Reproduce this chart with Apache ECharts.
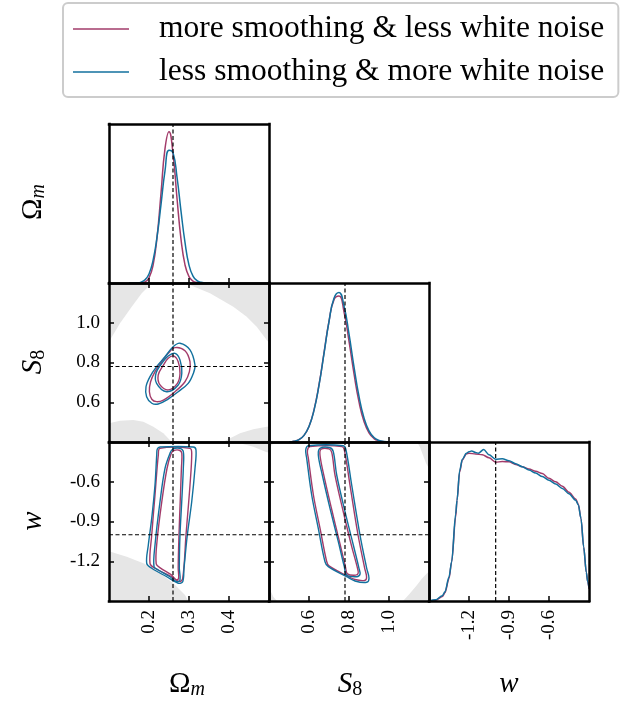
<!DOCTYPE html>
<html>
<head>
<meta charset="utf-8">
<script src="https://cdn.jsdelivr.net/npm/echarts@6/dist/echarts.min.js"></script>
<style>
  html, body { margin: 0; padding: 0; background: #fff; }
  #chart { width: 631px; height: 702px; }
</style>
</head>
<body>
<div id="chart"></div>
<script>
// ---- parameter ranges, ticks and fiducial values ----
const omRange = [0.1, 0.5];
const s8Range = [0.4, 1.2];
const wRange = [-1.5, -0.3];
const omTicks = [0.2, 0.3, 0.4];
const s8Ticks = [0.6, 0.8, 1.0];
const wTicks = [-1.2, -0.9, -0.6];
const omTrue = 0.26;
const s8True = 0.78;
const wTrue = -1.0;

const seriesNames = ['more smoothing & less white noise', 'less smoothing & more white noise'];
const colors = ['#a23b6a', '#12719e'];

// ---- 1D marginal posteriors ----
const omGridVals = [0.15, 0.16, 0.17, 0.18, 0.19, 0.20, 0.21, 0.22, 0.23, 0.24, 0.25, 0.26, 0.27, 0.28, 0.29, 0.30, 0.31, 0.32, 0.33, 0.34, 0.35, 0.36];
const omPdfA = [0, 0, 0.0003, 0.001, 0.007, 0.034, 0.115, 0.3, 0.592, 0.887, 0.999, 0.855, 0.56, 0.29, 0.12, 0.042, 0.012, 0.003, 0.0004, 0, 0, 0];
const omPdfB = [0, 0.0003, 0.0015, 0.006, 0.021, 0.06, 0.148, 0.303, 0.518, 0.74, 0.877, 0.86, 0.7, 0.475, 0.268, 0.118, 0.046, 0.016, 0.005, 0.0012, 0, 0];

const s8GridVals = [0.5, 0.525, 0.55, 0.575, 0.6, 0.625, 0.65, 0.675, 0.7, 0.725, 0.75, 0.775, 0.8, 0.825, 0.85, 0.875, 0.9, 0.925, 0.95, 0.975, 1.0];
const s8PdfA = [0.0014, 0.005, 0.016, 0.044, 0.104, 0.214, 0.382, 0.594, 0.805, 0.949, 0.973, 0.868, 0.673, 0.455, 0.267, 0.137, 0.061, 0.023, 0.008, 0.0025, 0.0006];
const s8PdfB = [0.0015, 0.0054, 0.0164, 0.044, 0.103, 0.211, 0.377, 0.589, 0.803, 0.958, 0.997, 0.907, 0.721, 0.501, 0.304, 0.161, 0.074, 0.03, 0.0107, 0.0033, 0.0009];

const wGridA = [-1.5, -1.45, -1.4, -1.38, -1.35, -1.33, -1.3, -1.29, -1.27, -1.25, -1.22, -1.2, -1.15, -1.1, -1.05, -1.0, -0.95, -0.9, -0.85, -0.8, -0.75, -0.7, -0.65, -0.6, -0.55, -0.5, -0.45, -0.4, -0.38, -0.36, -0.34, -0.32, -0.31, -0.3];
const wPdfA = [0, 0.005, 0.03, 0.055, 0.15, 0.26, 0.56, 0.67, 0.86, 0.94, 0.98, 0.985, 0.98, 0.975, 0.955, 0.925, 0.93, 0.928, 0.91, 0.895, 0.88, 0.865, 0.85, 0.818, 0.795, 0.765, 0.725, 0.68, 0.645, 0.55, 0.36, 0.19, 0.13, 0.08];
const wGridB = [-1.5, -1.45, -1.4, -1.38, -1.35, -1.33, -1.3, -1.29, -1.27, -1.25, -1.22, -1.2, -1.18, -1.15, -1.13, -1.09, -1.05, -1.0, -0.95, -0.9, -0.85, -0.8, -0.75, -0.7, -0.65, -0.6, -0.55, -0.5, -0.45, -0.4, -0.38, -0.36, -0.34, -0.32, -0.31, -0.3];
const wPdfB = [0, 0.008, 0.035, 0.062, 0.16, 0.262, 0.58, 0.67, 0.87, 0.945, 0.985, 0.995, 1.0, 0.99, 0.985, 1.01, 0.975, 0.945, 0.948, 0.935, 0.915, 0.895, 0.873, 0.853, 0.83, 0.805, 0.78, 0.75, 0.715, 0.672, 0.64, 0.55, 0.36, 0.19, 0.13, 0.09];

// ---- 2D credible contours (68% and 95%) ----
const omS8A68 = [[0.261, 0.833], [0.273, 0.804], [0.2775, 0.746], [0.271, 0.695], [0.248, 0.662], [0.2275, 0.687], [0.223, 0.737], [0.236, 0.787], [0.248, 0.821]];
const omS8A95 = [[0.265, 0.875], [0.29, 0.859], [0.3025, 0.804], [0.301, 0.754], [0.29, 0.703], [0.265, 0.653], [0.236, 0.611], [0.219, 0.603], [0.207, 0.615], [0.201, 0.653], [0.204, 0.703], [0.215, 0.754], [0.232, 0.804], [0.248, 0.846]];
const omS8B68 = [[0.265, 0.846], [0.2775, 0.813], [0.282, 0.746], [0.273, 0.687], [0.244, 0.653], [0.219, 0.695], [0.2175, 0.746], [0.232, 0.796], [0.248, 0.833]];
const omS8B95 = [[0.2775, 0.897], [0.3025, 0.863], [0.315, 0.787], [0.311, 0.746], [0.298, 0.695], [0.273, 0.653], [0.244, 0.611], [0.223, 0.591], [0.207, 0.595], [0.194, 0.628], [0.1925, 0.678], [0.2025, 0.729], [0.219, 0.779], [0.24, 0.829], [0.261, 0.88]];

const omWA68 = [[0.262, -0.365], [0.276, -0.362], [0.282, -0.385], [0.281, -0.5], [0.278, -0.75], [0.275, -1.0], [0.273, -1.25], [0.274, -1.33], [0.268, -1.34], [0.255, -1.3], [0.228, -1.25], [0.218, -1.22], [0.22, -1.05], [0.232, -0.75], [0.245, -0.5], [0.255, -0.39]];
const omWA95 = [[0.2275, -0.348], [0.3025, -0.348], [0.3068, -0.385], [0.3025, -0.625], [0.2925, -1.002], [0.2843, -1.329], [0.2758, -1.354], [0.2568, -1.317], [0.215, -1.253], [0.2025, -1.216], [0.2068, -1.002], [0.215, -0.7], [0.2233, -0.398]];
const omWB68 = [[0.2593, -0.353], [0.2775, -0.348], [0.2858, -0.373], [0.2858, -0.4985], [0.2818, -0.751], [0.2775, -1.002], [0.2758, -1.253], [0.2775, -1.342], [0.2693, -1.354], [0.2525, -1.317], [0.2233, -1.266], [0.2125, -1.241], [0.215, -1.077], [0.2275, -0.751], [0.24, -0.4985], [0.2525, -0.385]];
const omWB95 = [[0.2275, -0.338], [0.3108, -0.338], [0.3175, -0.36], [0.315, -0.4985], [0.3068, -0.751], [0.2958, -1.002], [0.2875, -1.253], [0.2843, -1.354], [0.2733, -1.366], [0.2443, -1.317], [0.2068, -1.253], [0.1943, -1.216], [0.1983, -1.077], [0.2068, -0.876], [0.215, -0.625], [0.2193, -0.398], [0.2208, -0.353]];

const s8WA68 = [[0.66, -0.355], [0.70, -0.352], [0.714, -0.38], [0.73, -0.55], [0.772, -0.83], [0.812, -1.08], [0.842, -1.25], [0.846, -1.29], [0.834, -1.305], [0.792, -1.295], [0.782, -1.24], [0.752, -1.05], [0.712, -0.8], [0.674, -0.55], [0.655, -0.4]];
const s8WA95 = [[0.605, -0.335], [0.765, -0.335], [0.778, -0.37], [0.805, -0.625], [0.845, -1.0], [0.878, -1.25], [0.888, -1.32], [0.878, -1.345], [0.83, -1.338], [0.79, -1.31], [0.70, -1.235], [0.688, -1.2], [0.655, -0.95], [0.622, -0.7], [0.597, -0.425], [0.592, -0.365]];
const s8WB68 = [[0.655, -0.3475], [0.705, -0.343], [0.7215, -0.3732], [0.7385, -0.549], [0.78, -0.826], [0.8215, -1.0773], [0.85, -1.2532], [0.855, -1.2985], [0.8385, -1.3166], [0.7885, -1.3038], [0.7765, -1.2411], [0.7465, -1.0524], [0.705, -0.8004], [0.6665, -0.549], [0.6465, -0.3981]];
const s8WB95 = [[0.5965, -0.3279], [0.7715, -0.3279], [0.785, -0.3604], [0.8135, -0.6245], [0.855, -1.0019], [0.8885, -1.2532], [0.9, -1.3286], [0.8885, -1.3589], [0.83, -1.349], [0.7885, -1.3166], [0.6965, -1.2411], [0.68, -1.2034], [0.6465, -0.9513], [0.6135, -0.7], [0.5885, -0.423], [0.5835, -0.3604]];

// ---- prior-excluded regions (shaded) ----
const omS8Prior = [
  [[0.1, 1.2], [0.2075, 1.2], [0.2025, 1.19], [0.1818, 1.148], [0.1568, 1.081], [0.1275, 0.997], [0.1025, 0.913], [0.1, 0.9]],
  [[0.29, 1.2], [0.3025, 1.19], [0.3525, 1.148], [0.4108, 1.081], [0.4443, 1.03], [0.4693, 0.98], [0.4943, 0.913], [0.5, 0.9], [0.5, 1.2]],
  [[0.1, 0.4], [0.1, 0.494], [0.1275, 0.507], [0.1608, 0.511], [0.1858, 0.502], [0.2108, 0.477], [0.2358, 0.444], [0.2568, 0.4]],
  [[0.385, 0.4], [0.3943, 0.41], [0.4275, 0.444], [0.4608, 0.464], [0.4943, 0.477], [0.5, 0.478], [0.5, 0.4]]
];
const omWPrior = [
  [[0.3858, -0.3], [0.4275, -0.31], [0.4608, -0.335], [0.4943, -0.378], [0.5, -0.38], [0.5, -0.3]],
  [[0.1, -1.5], [0.1, -1.125], [0.1443, -1.166], [0.1858, -1.216], [0.2275, -1.291], [0.2608, -1.366], [0.29, -1.455], [0.2983, -1.5]]
];
const s8WPrior = [
  [[0.4, -0.3], [0.44, -0.3], [0.422, -0.31], [0.41, -0.33], [0.403, -0.36], [0.4, -0.38]],
  [[0.4, -1.5], [0.44, -1.5], [0.422, -1.47], [0.41, -1.43], [0.403, -1.37], [0.4, -1.33]],
  [[1.2, -0.3], [1.14, -0.3], [1.155, -0.34], [1.17, -0.4], [1.185, -0.46], [1.2, -0.5]],
  [[1.2, -1.5], [1.07, -1.5], [1.1, -1.45], [1.14, -1.38], [1.165, -1.33], [1.19, -1.29], [1.2, -1.28]]
];

// ---- layout of the triangle ----
const params = {
  om: { range: omRange, step: 0.1, ticks: omTicks, truth: omTrue },
  s8: { range: s8Range, step: 0.2, ticks: s8Ticks, truth: s8True },
  w:  { range: wRange,  step: 0.3, ticks: wTicks,  truth: wTrue }
};
const PW = 160, PH = 159;
const panels = [
  { left: 109, top: 124, xp: 'om', yp: null, ymax: 1.05 },
  { left: 109, top: 283, xp: 'om', yp: 's8' },
  { left: 269, top: 283, xp: 's8', yp: null, ymax: 1.06 },
  { left: 109, top: 442, xp: 'om', yp: 'w' },
  { left: 269, top: 442, xp: 's8', yp: 'w' },
  { left: 429, top: 442, xp: 'w',  yp: null, ymax: 1.06 }
];
const SERIF = 'Liberation Serif';

function makeAxis(dim, gi, position, pkey, ymax, showTicks, showLabels) {
  const p = pkey ? params[pkey] : null;
  const ax = {
    type: 'value', gridIndex: gi, position: position, z: 10,
    min: p ? p.range[0] : 0,
    max: p ? p.range[1] : ymax,
    axisLine: { show: true, onZero: false, lineStyle: { color: '#000', width: 2.5, cap: 'square' } },
    axisTick: { show: showTicks, inside: true, length: 5, lineStyle: { color: '#000', width: 1.5 } },
    axisLabel: { show: false },
    splitLine: { show: false }
  };
  if (p) {
    ax.interval = p.step;
    ax.axisTick.customValues = p.ticks;
    ax.axisLabel = {
      show: showLabels, customValues: p.ticks, margin: 9,
      fontFamily: SERIF, fontSize: 19, color: '#000',
      formatter: v => v.toFixed(1)
    };
    if (dim === 'x') ax.axisLabel.rotate = 90;
  }
  return ax;
}

const grids = [], xAxes = [], yAxes = [], series = [];
panels.forEach((P, i) => {
  grids.push({ left: P.left, top: P.top, width: PW, height: PH, show: false });
  xAxes.push(makeAxis('x', i, 'bottom', P.xp, null, true, i >= 3));
  xAxes.push(makeAxis('x', i, 'top', P.xp, null, !!P.yp, false));
  yAxes.push(makeAxis('y', i, 'left', P.yp, P.ymax, !!P.yp, i === 1 || i === 3));
  yAxes.push(makeAxis('y', i, 'right', P.yp, P.ymax, !!P.yp, false));
});

function shapeSeries(gi, pts, style, z, smooth, name) {
  return {
    type: 'custom', name: name, xAxisIndex: 2 * gi, yAxisIndex: 2 * gi,
    data: pts, clip: true, z: z, silent: true,
    renderItem: (prm, api) => prm.dataIndex === 0 ? {
      type: 'polygon',
      shape: { points: pts.map(p => api.coord(p)), smooth: smooth },
      style: style
    } : null
  };
}
const grayStyle = { fill: '#e6e6e6', stroke: null };
omS8Prior.forEach(g => series.push(shapeSeries(1, g, grayStyle, 1, 0)));
omWPrior.forEach(g => series.push(shapeSeries(3, g, grayStyle, 1, 0)));
s8WPrior.forEach(g => series.push(shapeSeries(4, g, grayStyle, 1, 0)));

const contourSets = [
  { gi: 1, sets: [[omS8A68, omS8A95], [omS8B68, omS8B95]] },
  { gi: 3, sets: [[omWA68, omWA95], [omWB68, omWB95]] },
  { gi: 4, sets: [[s8WA68, s8WA95], [s8WB68, s8WB95]] }
];
[0, 1].forEach(k => {
  contourSets.forEach(c => {
    c.sets[k].forEach(pts => {
      series.push(shapeSeries(c.gi, pts, { fill: 'none', stroke: colors[k], lineWidth: 1.4 }, 3 + k, 0.35, seriesNames[k]));
    });
  });
});

function curve(gi, xs, ys, k, smooth, mono) {
  return {
    type: 'line', name: seriesNames[k], xAxisIndex: 2 * gi, yAxisIndex: 2 * gi,
    data: xs.map((x, j) => [x, ys[j]]),
    showSymbol: false, smooth: smooth, smoothMonotone: mono, silent: true, z: 3 + k,
    lineStyle: { color: colors[k], width: 1.5 }, itemStyle: { color: colors[k] }
  };
}
series.push(curve(0, omGridVals, omPdfA, 0, 0.5, null));
series.push(curve(2, s8GridVals, s8PdfA, 0, 0.5, null));
series.push(curve(5, wGridA, wPdfA, 0, 0.3, 'x'));
series.push(curve(0, omGridVals, omPdfB, 1, 0.5, null));
series.push(curve(2, s8GridVals, s8PdfB, 1, 0.5, null));
series.push(curve(5, wGridB, wPdfB, 1, 0.3, 'x'));

// dashed fiducial markers
function dashed(gi, a, b) {
  return {
    type: 'line', xAxisIndex: 2 * gi, yAxisIndex: 2 * gi, data: [a, b],
    showSymbol: false, silent: true, z: 6,
    lineStyle: { color: '#000', width: 1.2, type: [4, 2.5] }
  };
}
panels.forEach((P, i) => {
  const px = params[P.xp];
  if (P.yp) {
    const py = params[P.yp];
    series.push(dashed(i, [px.truth, py.range[0]], [px.truth, py.range[1]]));
    series.push(dashed(i, [px.range[0], py.truth], [px.range[1], py.truth]));
  } else {
    series.push(dashed(i, [px.truth, 0], [px.truth, P.ymax]));
  }
});

// axis titles
function title(x, y, rich, text, rot) {
  return {
    type: 'text', x: x, y: y, rotation: rot || 0, silent: true,
    style: { text: text, rich: rich, align: 'center', verticalAlign: 'middle', fill: '#000' }
  };
}
const richT = {
  up: { fontFamily: SERIF, fontSize: 29, fill: '#000' },
  it: { fontFamily: SERIF, fontSize: 29, fontStyle: 'italic', fill: '#000' },
  subi: { fontFamily: SERIF, fontSize: 20, fontStyle: 'italic', fill: '#000', padding: [12, 0, 0, 0] },
  sub: { fontFamily: SERIF, fontSize: 20, fill: '#000', padding: [12, 0, 0, 0] }
};
const titles = [
  title(187, 684, richT, '{up|Ω}{subi|m}'),
  title(350, 684, richT, '{it|S}{sub|8}'),
  title(509, 684, richT, '{it|w}'),
  title(33, 202, richT, '{up|Ω}{subi|m}', Math.PI / 2),
  title(33, 362, richT, '{it|S}{sub|8}', Math.PI / 2),
  title(33, 521, richT, '{it|w}', Math.PI / 2)
];

const chart = echarts.init(document.getElementById('chart'), null, { renderer: 'canvas' });
chart.setOption({
  animation: false,
  backgroundColor: '#fff',
  grid: grids,
  xAxis: xAxes,
  yAxis: yAxes,
  legend: {
    data: seriesNames.map((n, k) => ({ name: n, icon: 'rect', itemStyle: { color: colors[k] } })),
    orient: 'vertical', left: 63, top: 3,
    padding: [9, 14, 8, 10], itemGap: 9,
    itemWidth: 56, itemHeight: 1.5,
    borderColor: '#cccccc', borderWidth: 2, borderRadius: 5,
    selectedMode: false,
    formatter: name => '{g| }' + name,
    textStyle: {
      fontFamily: SERIF, fontSize: 31.5, color: '#000', lineHeight: 34,
      rich: { g: { width: 25, fontSize: 31.5, lineHeight: 34 } }
    }
  },
  graphic: titles,
  series: series
});
</script>
</body>
</html>
